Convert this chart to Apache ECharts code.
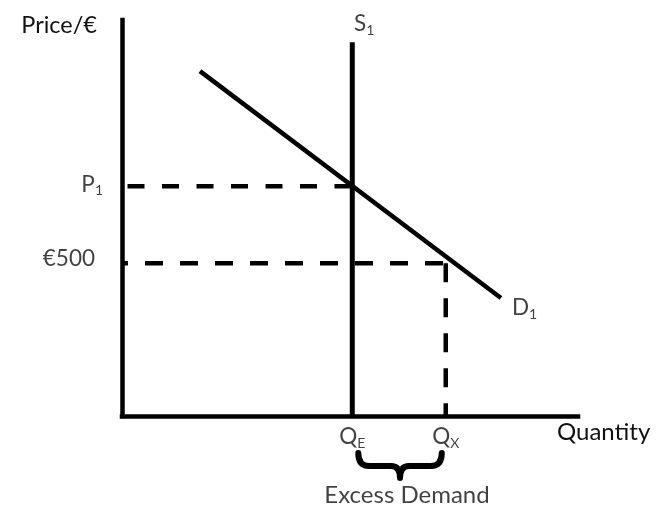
<!DOCTYPE html>
<html>
<head>
<meta charset="utf-8">
<script src="https://cdn.jsdelivr.net/npm/echarts@6/dist/echarts.min.js"></script>
<style>
html,body{margin:0;padding:0;background:#fff;}
#chart{width:660px;height:508px;}
</style>
</head>
<body>
<div id="chart"></div>
<script>
// ---- data (chart units: 0..100 on both axes) ----
const axisRange = [0, 100];
const qE = 50.5;            // equilibrium quantity (S1 position)
const qX = 71;              // quantity demanded at €500
const p1 = 58;              // equilibrium price P1
const p500 = 38.6;          // price €500
const supplyTop = 94.4;     // top of S1 line
const demandPts = [[17.1, 87.1], [83.1, 29.8]];
const pointLabels = ['S1', 'P1', '€500', 'D1', 'QE', 'QX', 'Excess Demand'];
const axisNames = ['Quantity', 'Price/€'];

const FONT = 'Lato';
const BLACK = '#000';
const TXT = '#111';
const rich = {
  m: { fontFamily: FONT, fontSize: 22.5, color: TXT, lineHeight: 26 },
  s: { fontFamily: FONT, fontSize: 14, color: TXT, verticalAlign: 'bottom', lineHeight: 26 }
};
function sub(main, s) { return '{m|' + main + '}{s|' + s + '}'; }

const chart = echarts.init(document.getElementById('chart'), null, { renderer: 'canvas' });

const dashLine = (data, offset, dash) => ({
  type: 'line', data: data, symbol: 'none', silent: true, clip: false,
  lineStyle: { color: BLACK, width: 4.5, type: dash, dashOffset: offset, cap: 'butt' },
  z: 3
});

chart.setOption({
  animation: false,
  backgroundColor: '#fff',
  grid: { left: 122, right: 82, top: 20, bottom: 92 },
  xAxis: {
    type: 'value', min: axisRange[0], max: axisRange[1],
    name: axisNames[0], nameLocation: 'end', nameGap: -21,
    nameTextStyle: { fontFamily: FONT, fontSize: 24, color: TXT, align: 'left', verticalAlign: 'top', padding: [4, 0, 0, 0] },
    axisLine: { show: true, lineStyle: { color: BLACK, width: 4.5, cap: 'square' } },
    axisTick: { show: false }, axisLabel: { show: false }, splitLine: { show: false }
  },
  yAxis: {
    type: 'value', min: axisRange[0], max: axisRange[1],
    name: axisNames[1], nameLocation: 'end', nameGap: -5,
    nameTextStyle: { fontFamily: FONT, fontSize: 23.5, color: TXT, align: 'right', verticalAlign: 'middle', padding: [0, 25, 0, 0] },
    axisLine: { show: true, lineStyle: { color: BLACK, width: 4.5, cap: 'square' } },
    axisTick: { show: false }, axisLabel: { show: false }, splitLine: { show: false }
  },
  series: [
    // P1 dashed guide
    dashLine([[0, p1], [qE, p1]], 29, [17, 17.5]),
    // €500 dashed guide (horizontal)
    dashLine([[0, p500], [qX, p500]], 12, [18, 17]),
    // €500 dashed guide (vertical down to Qx)
    dashLine([[qX, p500], [qX, 0]], 0, [19, 16]),
    // Supply S1
    {
      type: 'line', data: [[qE, 0], [qE, supplyTop]], symbol: 'none', silent: true,
      lineStyle: { color: BLACK, width: 5, cap: 'butt' }, z: 4
    },
    // Demand D1
    {
      type: 'line', data: demandPts, symbol: 'none', silent: true,
      lineStyle: { color: BLACK, width: 4.5, cap: 'butt' }, z: 4
    },
    // Brace under Qe..Qx
    {
      type: 'custom', data: [[qE, qX]], clip: false, silent: true, z: 5,
      renderItem: function (params, api) {
        const a = api.coord([api.value(0), 0]);
        const b = api.coord([api.value(1), 0]);
        const xl = a[0] + 6, xr = b[0] - 4;
        const xm = (xl + xr) / 2;
        const yTop = a[1] + 37, yMid = a[1] + 50, yTip = a[1] + 62;
        const d = 'M' + xl + ' ' + yTop +
          ' Q' + xl + ' ' + yMid + ' ' + (xl + 11) + ' ' + yMid +
          ' L' + (xm - 9) + ' ' + yMid +
          ' Q' + xm + ' ' + yMid + ' ' + xm + ' ' + yTip +
          ' Q' + xm + ' ' + yMid + ' ' + (xm + 9) + ' ' + yMid +
          ' L' + (xr - 11) + ' ' + yMid +
          ' Q' + xr + ' ' + yMid + ' ' + xr + ' ' + yTop;
        return {
          type: 'path',
          shape: { pathData: d },
          style: { fill: null, stroke: BLACK, lineWidth: 6, lineCap: 'round', lineJoin: 'round' }
        };
      }
    },
    // Text labels anchored to data points
    {
      type: 'scatter', symbolSize: 0, silent: true, z: 6,
      itemStyle: { color: 'rgba(0,0,0,0)' },
      data: [
        { value: [qE, supplyTop], label: { show: true, position: 'top', distance: 5, offset: [12, 0], formatter: sub('S', '1'), rich: rich } },
        { value: [0, p1], label: { show: true, position: 'left', distance: 19, offset: [0, -2], formatter: sub('P', '1'), rich: rich } },
        { value: [0, p500], label: { show: true, position: 'left', distance: 27, offset: [0, -4], formatter: '{m|' + pointLabels[2] + '}', rich: rich } },
        { value: demandPts[1], label: { show: true, position: 'right', distance: 11, offset: [0, 10], formatter: sub('D', '1'), rich: rich } },
        { value: [qE, 0], label: { show: true, position: 'bottom', distance: 8, formatter: sub('Q', 'E'), rich: rich } },
        { value: [qX, 0], label: { show: true, position: 'bottom', distance: 8, formatter: sub('Q', 'X'), rich: rich } },
        { value: [(qE + qX) / 2, 0], label: { show: true, position: 'bottom', distance: 67, offset: [8, 0], formatter: pointLabels[6], fontFamily: FONT, fontSize: 24, color: TXT } }
      ]
    }
  ]
});
</script>
</body>
</html>
